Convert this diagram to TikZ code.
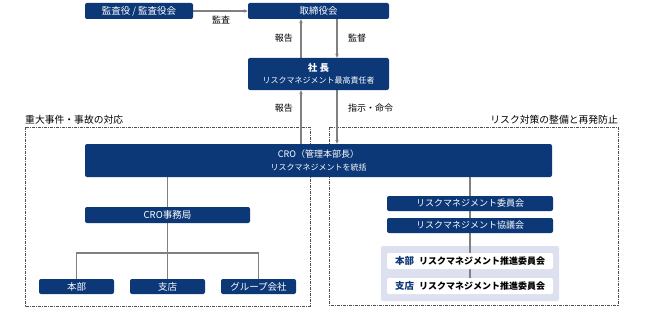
\documentclass[tikz,border=0pt]{standalone}
\usepackage{fontspec}
\setmainfont{Noto Sans CJK JP}
\usetikzlibrary{arrows.meta,backgrounds}
\definecolor{navy}{RGB}{12,56,120}
\definecolor{panelc}{RGB}{221,224,238}
\definecolor{linec}{RGB}{128,128,128}
\definecolor{dashc}{RGB}{80,80,80}
\newcommand{\fsz}[1]{\fontsize{#1}{#1}\selectfont}
\tikzset{
  navybox/.style={fill=navy, text=white, rounded corners=2pt, inner sep=0pt, align=center, font=\fsz{9.5}},
  whitebox/.style={fill=white, rounded corners=2pt, inner sep=0pt, font=\fsz{9}},
  lbl/.style={font=\fsz{9}, inner sep=0pt},
  head/.style={font=\fsz{9.8}, inner sep=0pt},
  conn/.style={draw=linec, line width=1.1pt},
  arr/.style={conn, -{Stealth[length=4pt,width=3.5pt]}},
  dashbox/.style={draw=dashc, line width=0.7pt, dash pattern=on 3pt off 1pt on 1pt off 1pt}
}
\begin{document}
\begin{tikzpicture}[x=1pt,y=-1pt]
\useasboundingbox (0,0) rectangle (645,321);
% nodes
\node[navybox, minimum width=108pt, minimum height=16pt] (kansa) at (139,11) {監査役 / 監査役会};
\node[navybox, minimum width=141pt, minimum height=16pt] (tori) at (318.5,11) {取締役会};
\node[navybox, minimum width=141pt, minimum height=32pt] (shacho) at (318.5,74)
  {{\bfseries\fsz{9.5}社 長}\\[3pt]{\fsz{8}リスクマネジメント最高責任者}};
\node[navybox, minimum width=467pt, minimum height=33pt] (cro) at (318.5,160.5)
  {{\fsz{9}CRO（管理本部長）}\\[3pt]{\fsz{8}リスクマネジメントを統括}};
\node[navybox, minimum width=165pt, minimum height=16pt] (jimu) at (167.5,215) {CRO事務局};
\node[navybox, minimum width=75pt, minimum height=15pt] (honbu) at (76.5,286.5) {本部};
\node[navybox, minimum width=75pt, minimum height=15pt] (shiten) at (167.5,286.5) {支店};
\node[navybox, minimum width=75pt, minimum height=15pt] (group) at (258.5,286.5) {グループ会社};
\node[navybox, minimum width=166pt, minimum height=15pt, font=\fsz{9}] (iin) at (470,203.5) {リスクマネジメント委員会};
\node[navybox, minimum width=166pt, minimum height=15pt, font=\fsz{9}] (kyogi) at (470,225.5) {リスクマネジメント協議会};
\node[whitebox, minimum width=166pt, minimum height=16pt] (sui1) at (470,261)
  {{\bfseries\color{navy}\fsz{9.5}本部}\hspace{5pt}{\bfseries リスクマネジメント推進委員会}};
\node[whitebox, minimum width=166pt, minimum height=16pt] (sui2) at (470,286)
  {{\bfseries\color{navy}\fsz{9.5}支店}\hspace{5pt}{\bfseries リスクマネジメント推進委員会}};
% labels
\node[lbl] (lkansa) at (221,20) {監査};
\node[lbl, anchor=east] (lhoukoku1) at (293,38) {報告};
\node[lbl, anchor=west] (lkantoku) at (348,38) {監督};
\node[lbl, anchor=east] (lhoukoku2) at (293,108) {報告};
\node[lbl, anchor=west] (lshiji) at (348,108) {指示・命令};
\node[head, anchor=west] (hleft) at (25,119.5) {重大事件・事故の対応};
\node[head, anchor=east] (hright) at (618,119.5) {リスク対策の整備と再発防止};
\coordinate (xl) at (301,0);
\coordinate (xr) at (337,0);
\coordinate (branch) at (167.5,253);
\begin{pgfonlayer}{background}
  \draw[dashbox] (25,127) rectangle (310,306);
  \draw[dashbox] (329,127) rectangle (618,305);
  \fill[panelc, rounded corners=2pt] (381,246) rectangle (559,301);
  \draw[arr] (kansa.east) -- (tori.west);
  \draw[arr] (shacho.north -| xl) -- (tori.south -| xl);
  \draw[arr] (tori.south -| xr) -- (shacho.north -| xr);
  \draw[arr] (cro.north -| xl) -- (shacho.south -| xl);
  \draw[arr] (shacho.south -| xr) -- (cro.north -| xr);
  \draw[conn] (cro.south -| jimu.north) -- (jimu.north);
  \draw[conn] (jimu.south) -- (branch);
  \draw[conn] (honbu.north) |- (branch) -| (group.north);
  \draw[conn] (branch) -- (shiten.north);
  \draw[conn] (cro.south -| iin.north) -- (sui2.north);
\end{pgfonlayer}
\end{tikzpicture}
\end{document}
